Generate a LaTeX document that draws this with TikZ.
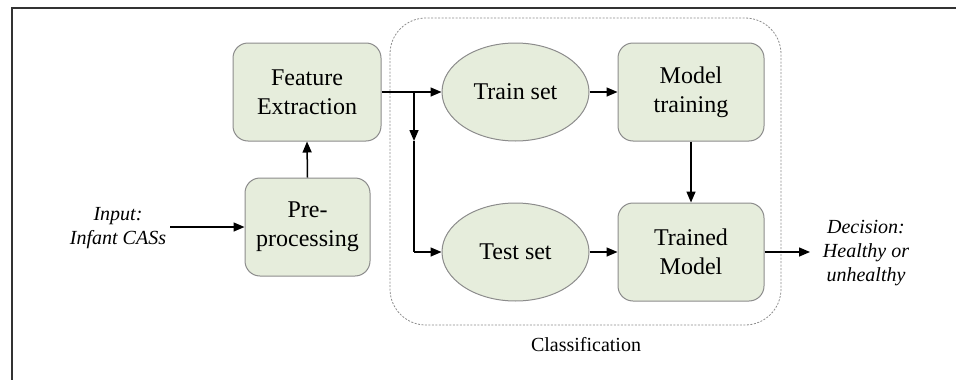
\documentclass[tikz,border=0pt]{standalone}
\usepackage{fontspec}
\setmainfont{Liberation Serif}
\usetikzlibrary{shapes.geometric,arrows.meta,positioning}

\definecolor{boxfill}{RGB}{230,237,220}
\definecolor{boxline}{RGB}{140,140,140}
\definecolor{frameline}{RGB}{50,50,50}

\tikzset{
  procbox/.style={draw=boxline, fill=boxfill, line width=1pt, rounded corners=15pt,
    inner sep=0pt, align=center, font=\fontsize{24}{29}\selectfont},
  setnode/.style={draw=boxline, fill=boxfill, line width=1pt, ellipse,
    inner sep=0pt, font=\fontsize{24}{29}\selectfont},
  flow/.style={line width=1.5pt, -{Triangle[length=11pt,width=9pt]}},
  plainline/.style={line width=1.5pt},
  note/.style={align=center, font=\fontsize{20}{24}\selectfont\itshape},
}

\begin{document}
\begin{tikzpicture}[x=1pt,y=-1pt]
  \useasboundingbox (0,0) rectangle (956,380);

  % outer frame: top and left edges only
  \draw[frameline, line width=2pt] (956,8) -- (12,8) -- (12,380);

  % classification group
  \draw[boxline, line width=0.8pt, dash pattern=on 2pt off 1.5pt, rounded corners=36pt]
    (390,18) rectangle (781,325);
  \node[font=\fontsize{20}{24}\selectfont] (cls) at (586,345) {Classification};

  % processing blocks
  \node[procbox, minimum width=148pt, minimum height=98pt] (fe) at (307,92)
    {Feature\\Extraction};
  \node[procbox, minimum width=125pt, minimum height=98pt] (pp) at (307.5,227)
    {Pre-\\processing};
  \node[setnode, minimum width=147pt, minimum height=98pt] (train) at (515.5,92) {Train set};
  \node[setnode, minimum width=147pt, minimum height=98pt] (test) at (515.5,252) {Test set};
  \node[procbox, minimum width=146pt, minimum height=98pt] (mt) at (691,92)
    {Model\\training};
  \node[procbox, minimum width=146pt, minimum height=98pt] (tm) at (691,252)
    {Trained\\Model};

  % input / output labels
  \node[note] (in) at (118,228) {Input:\\Infant CASs};
  \node[note] (out) at (866,253) {Decision:\\Healthy or\\unhealthy};

  % connectors
  \coordinate (inend) at (170,227);
  \coordinate (split) at (414,92);
  \coordinate (splitmid) at (414,141);
  \coordinate (bend) at (414,252);
  \coordinate (outend) at (810,252);

  \draw[flow] (inend) -- (pp.west);
  \draw[flow] (pp.north) -- (fe.south);
  \draw[flow] (fe.east) -- (train.west);
  \draw[flow] (split) -- (splitmid);
  \draw[plainline] (splitmid) -- (bend);
  \draw[flow] (bend) -- (test.west);
  \draw[flow] (train.east) -- (mt.west);
  \draw[flow] (mt.south) -- (tm.north);
  \draw[flow] (test.east) -- (tm.west);
  \draw[flow] (tm.east) -- (outend);
\end{tikzpicture}
\end{document}
